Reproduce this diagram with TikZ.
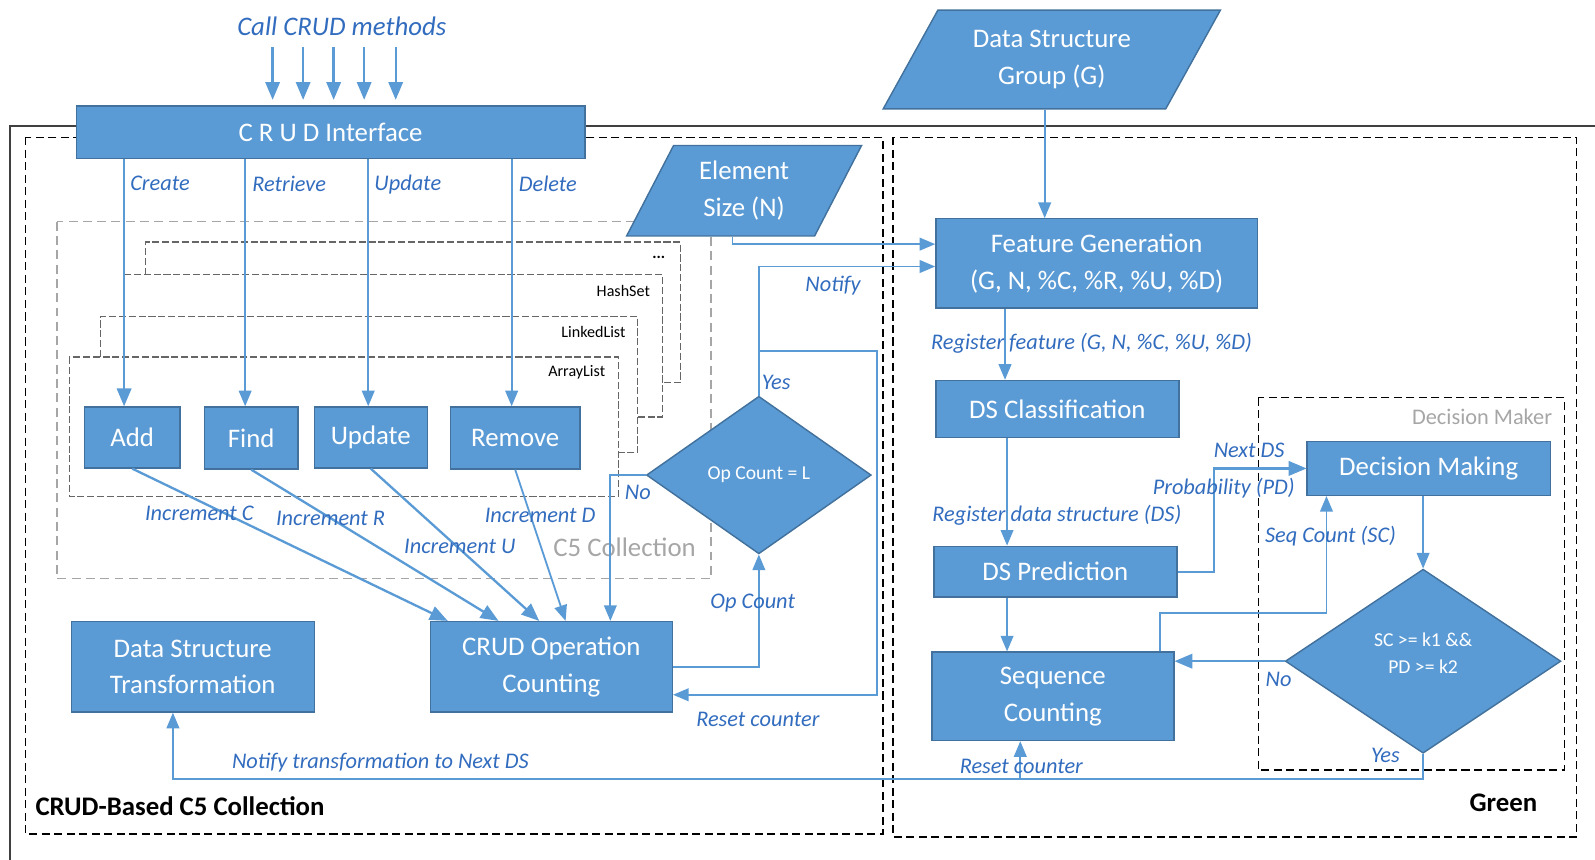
\documentclass[tikz,border=0pt]{standalone}
\usepackage{fontspec}
\setmainfont{Carlito}
\usetikzlibrary{arrows,shapes.geometric,positioning}
\definecolor{boxfill}{RGB}{91,155,213}
\definecolor{boxline}{RGB}{65,113,156}
\definecolor{lineblue}{RGB}{91,155,213}
\definecolor{lblblue}{RGB}{50,108,190}
\definecolor{lblgray}{RGB}{166,166,166}
\tikzstyle{block} = [rectangle, draw=boxline, fill=boxfill, text=white,
  line width=0.8pt, align=center, inner sep=0pt,
  font=\fontsize{15}{20.5}\selectfont]
\tikzstyle{io} = [trapezium,
trapezium stretches=true,
draw=boxline, fill=boxfill, text=white,
line width=0.8pt, align=center, inner sep=0pt,
font=\fontsize{15}{20.5}\selectfont]
\tikzstyle{decision} = [diamond, draw=boxline, fill=boxfill, text=white,
  line width=0.8pt, align=center, inner sep=0pt,
  font=\fontsize{11}{15.5}\selectfont]
\tikzstyle{arrow} = [->, line width=1.3pt, draw=lineblue]
\tikzstyle{thinarrow} = [->, line width=1pt, draw=lineblue]
\tikzstyle{lbl} = [text=lblblue, inner sep=1pt, font=\itshape\fontsize{12.5}{15}\selectfont]
\tikzstyle{frame} = [line width=0.8pt, dash pattern=on 4.5pt off 2.5pt]
\tikzstyle{c5frame} = [line width=0.7pt, draw=black!35, dash pattern=on 5pt off 3pt]
\tikzstyle{stack} = [line width=0.7pt, draw=black!60, dash pattern=on 4pt off 1.5pt]
\tikzstyle{tag} = [inner sep=1pt, font=\fontsize{9}{11}\selectfont]
\tikzstyle{title} = [font=\bfseries\fontsize{15}{18}\selectfont]

\begin{document}
\begin{tikzpicture}[
  x=0.02cm, y=-0.02cm, % pixel grid, y going down
  >=triangle 45,
]
  \useasboundingbox (0,0) rectangle (1568,845);

  % frames
  \draw[line width=0.9pt, black!75] (10,845) -- (10,124) -- (1568,124);
  \draw[frame] (25,135) rectangle (868,820);
  \draw[frame] (878,135) rectangle (1550,823);
  \draw[frame] (1237,391) rectangle (1538,757);
  \draw[c5frame] (56,218) rectangle (699,569);

  % collection stack
  \draw[stack] (143,270) -- (143,238) -- (669,238) -- (669,376) -- (651,376);
  \draw[stack] (122,270) -- (651,270) -- (651,410) -- (627,410);
  \draw[stack] (99,351) -- (99,311) -- (627,311) -- (627,445) -- (608,445);
  \draw[stack] (68,351) rectangle (608,488);
  \node[tag, anchor=east] (more)   at (656,253) {\textbf{...}};
  \node[tag, anchor=east] (hash)   at (641,286) {HashSet};
  \node[tag, anchor=east] (linked) at (617,326) {LinkedList};
  \node[tag, anchor=east] (array)  at (597,366) {ArrayList};

  % left part
  \node[lbl, font=\itshape\fontsize{15}{18}\selectfont] (call) at (336,26) {Call CRUD methods};
  \node[block, minimum width=10cm, minimum height=1.04cm] (ci) at (325,130) {C R U D Interface};

  \node[block, minimum width=1.88cm, minimum height=1.2cm]  (add)  at (130,430)   {Add};
  \node[block, minimum width=1.84cm, minimum height=1.22cm] (find) at (247,430.5) {Find};
  \node[block, minimum width=2.22cm, minimum height=1.2cm]  (upd)  at (364.5,430) {Update};
  \node[block, minimum width=2.54cm, minimum height=1.22cm] (rem)  at (506.5,430.5) {Remove};

  \node[block, minimum width=4.78cm, minimum height=1.78cm] (dst) at (189.5,655.5) {Data Structure\\Transformation};
  \node[block, minimum width=4.76cm, minimum height=1.78cm] (coc) at (542,655.5) {CRUD Operation\\Counting};

  \node[decision, minimum width=4.42cm, minimum height=3.1cm] (opc) at (746,467) {Op Count = L};
  \node[io, trapezium left angle=63, trapezium right angle=117,
        minimum width=4.66cm, minimum height=1.78cm] (es) at (731.5,187.5) {Element\\Size (N)};

  % right part
  \node[io, trapezium left angle=57, trapezium right angle=123,
        minimum width=6.64cm, minimum height=1.94cm] (dsg) at (1034,58.5) {Data Structure\\Group (G)};
  \node[block, minimum width=6.32cm, minimum height=1.76cm] (fg)  at (1078,259)    {Feature Generation\\(G, N, \%C, \%R, \%U, \%D)};
  \node[block, minimum width=4.78cm, minimum height=1.12cm] (dsc) at (1039.5,402)  {DS Classification};
  \node[block, minimum width=4.78cm, minimum height=1cm]    (dsp) at (1037.5,562)  {DS Prediction};
  \node[block, minimum width=4.76cm, minimum height=1.74cm] (sqc) at (1035,684.5)  {Sequence\\Counting};
  \node[block, minimum width=4.78cm, minimum height=1.06cm] (dm)  at (1404.5,460.5) {Decision Making};
  \node[decision, minimum width=5.42cm, minimum height=3.62cm] (dec) at (1399,650) {SC >= k1 \&\&\\PD >= k2\\[-6.5pt]};

  % CRUD calls
  \foreach \x in {268,298,328,358,389}
    \draw[arrow, shorten <=5pt, shorten >=3pt] (call.south -| \x,0) -- (ci.north -| \x,0);
  \draw[arrow] (ci.south -| 122,0) -- (add.north -| 122,0);
  \draw[arrow, line width=1pt] (ci.south -| 241,0) -- (find.north -| 241,0);
  \draw[arrow, line width=1pt] (ci.south -| 362,0) -- (upd.north -| 362,0);
  \draw[arrow, line width=1pt] (ci.south -| 503,0) -- (rem.north -| 503,0);
  \node[lbl, anchor=west] at (126,180) {Create};
  \node[lbl, anchor=west] at (246,181) {Retrieve};
  \node[lbl, anchor=west] at (366,181) {Update};
  \node[lbl, anchor=west] at (508,181) {Delete};

  % increments
  \draw[arrow] (add.south)  -- (coc.north -| 440,0);
  \draw[arrow] (find.south) -- (coc.north -| 490,0);
  \draw[arrow] (upd.south)  -- (coc.north -| 530,0);
  \draw[thinarrow] (rem.south) -- (coc.north -| 556,0);
  \node[lbl] at (196,505) {Increment C};
  \node[lbl] at (325,510) {Increment R};
  \node[lbl] at (452,537) {Increment U};
  \node[lbl] at (531,507) {Increment D};
  \node[font=\fontsize{15}{18}\selectfont, text=lblgray] (c5) at (614,538) {C5 Collection};

  % op count loop
  \draw[thinarrow] (opc.west) -| (coc.north -| 600,0);
  \node[lbl] at (627,484) {No};
  \draw[thinarrow] (coc.east) -| (opc.south);
  \node[lbl] at (740,593) {Op Count};
  \draw[thinarrow] (opc.north) |- (fg.west |- 0,262);
  \node[lbl] at (763,376) {Yes};
  \node[lbl] at (819,281) {Notify};
  \coordinate (rs) at (746,345);
  \draw[thinarrow] (rs) -| (862,683) -- (coc.east |- 0,683);
  \node[lbl] at (745,707) {Reset counter};
  \draw[thinarrow] (es.south -| 720,0) |- (fg.west |- 0,240);

  % green
  \draw[thinarrow] (dsg.south -| 1027,0) -- (fg.north -| 1027,0);
  \draw[thinarrow] (fg.south -| 988,0) -- (dsc.north -| 988,0);
  \node[lbl] at (1073,337) {Register feature (G, N, \%C, \%U, \%D)};
  \draw[thinarrow] (dsc.south -| 990,0) -- (dsp.north -| 990,0);
  \node[lbl] at (1039,507) {Register data structure (DS)};
  \draw[thinarrow] (dsp.south -| 990,0) -- (sqc.north -| 990,0);
  \draw[arrow] (dsp.east) -- ++(36,0) |- (dm.west);
  \node[lbl] at (1228,443) {Next DS};
  \node[lbl] at (1203,480) {Probability (PD)};
  \draw[thinarrow] (dm.south -| dec.north) -- (dec.north);
  \draw[arrow] (dec.west) -- (sqc.east |- dec.west);
  \node[lbl] at (1257,668) {No};
  \draw[thinarrow] (sqc.north -| 1140,0) -- (1140,603) -| (dm.south -| 1304,0);
  \node[lbl] at (1308,527) {Seq Count (SC)};
  \node[font=\fontsize{12.5}{15}\selectfont, text=lblgray] (dmk) at (1457,410) {Decision Maker};

  % transformation
  \draw[thinarrow] (dec.south) -- (1399,766) -| (dst.south -| 170,0);
  \node[lbl] at (1362,743) {Yes};
  \node[lbl] at (374,750) {Notify transformation to Next DS};
  \coordinate (rc) at (1003,766);
  \draw[thinarrow] (rc) -- (sqc.south -| 1003,0);
  \node[lbl] at (1004,753) {Reset counter};

  \node[title] (left)  at (177,793)  {CRUD-Based C5 Collection};
  \node[title] (right) at (1478,789) {Green};
\end{tikzpicture}
\end{document}
